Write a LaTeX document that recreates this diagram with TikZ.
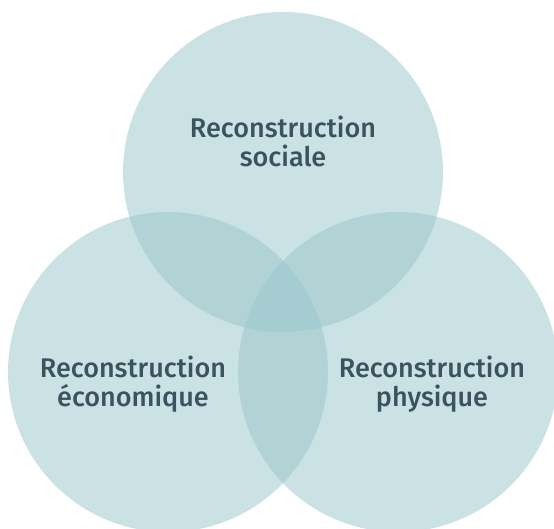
\documentclass[tikz,border=0pt]{standalone}
\usepackage{fontspec}
\setmainfont{Fira Sans}[UprightFont={* Medium}]
\usepackage{xcolor}
\usepackage{tikz}
\usetikzlibrary{positioning}
\definecolor{circfill}{RGB}{152,197,201}
\definecolor{labtext}{RGB}{59,83,94}
\tikzstyle{setcircle}=[circle, fill=circfill, fill opacity=0.5, minimum size=320pt, inner sep=0pt]
\tikzstyle{setlabel}=[text=labtext, align=center, font=\fontsize{27}{29}\selectfont]

\begin{document}
\begin{tikzpicture}[x=1pt,y=1pt]
\useasboundingbox (0,0) rectangle (554,529);
\node[setcircle] (soc) at (283,357) {};
\node[setcircle] (eco) at (168,157) {};
\node[setcircle] (phy) at (398,157) {};

\node[setlabel] (soclab) at (283,388) {Reconstruction\\sociale};
\node[setlabel] (ecolab) at (133,145) {Reconstruction\\économique};
\node[setlabel] (phylab) at (432,145) {Reconstruction\\physique};
\end{tikzpicture}
\end{document}
